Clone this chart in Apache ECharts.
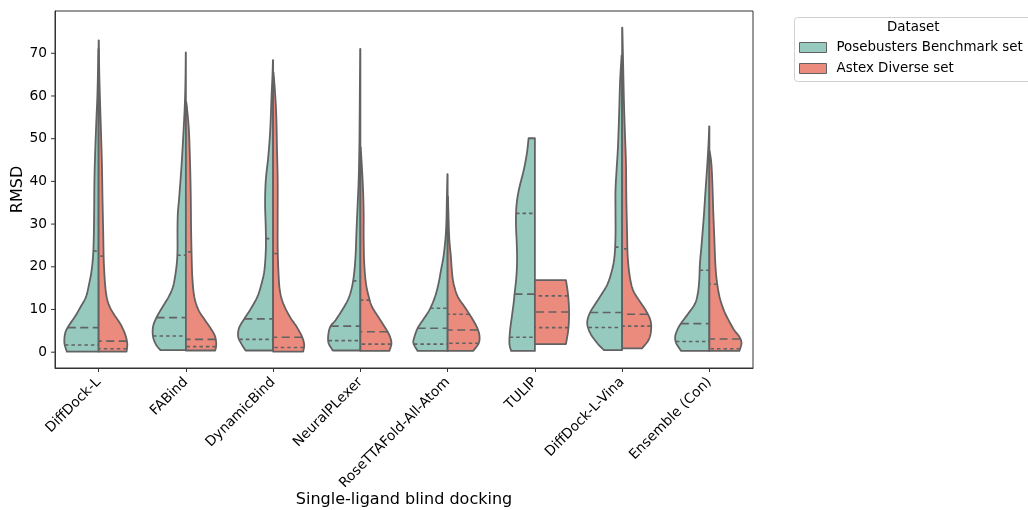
<!DOCTYPE html>
<html>
<head>
<meta charset="utf-8">
<script src="https://cdn.jsdelivr.net/npm/echarts@6/dist/echarts.min.js"></script>
<style>html,body{margin:0;padding:0;background:#fff}#c{width:1028px;height:510px}</style>
</head>
<body>
<div id="c"></div>
<script>
// ---------------- data ----------------
const categories = ['DiffDock-L', 'FABind', 'DynamicBind', 'NeuralPLexer', 'RoseTTAFold-All-Atom', 'TULIP', 'DiffDock-L-Vina', 'Ensemble (Con)'];
const seriesNames = ['Posebusters Benchmark set', 'Astex Diverse set'];
const yTickValues = [0, 10, 20, 30, 40, 50, 60, 70];

// density profiles: [RMSD value, relative density (1 = widest)]
const pbDensity = [
  [[0.14,0.91],[2.1,0.98],[4.4,0.96],[6.0,0.87],[8.3,0.68],[10.7,0.51],[13,0.36],[16.1,0.27],[19.2,0.20],[23.9,0.15],[31.7,0.13],[40.3,0.12],[48,0.094],[55.8,0.057],[59.7,0.037],[65.2,0.02],[71,0.006]],
  [[0.5,0.73],[1.7,0.85],[3.6,0.94],[6,0.94],[8.3,0.83],[10.7,0.66],[13,0.49],[15.3,0.37],[17.7,0.31],[20.8,0.26],[23.9,0.24],[28.6,0.24],[32.5,0.23],[36.4,0.19],[44.2,0.12],[52,0.066],[58.2,0.029],[64,0.011],[70.2,0.003]],
  [[0.4,0.79],[2.1,0.92],[3.6,1.0],[5.6,0.98],[7.5,0.85],[9.9,0.66],[13,0.45],[16.1,0.33],[19.2,0.25],[23.9,0.21],[28.6,0.21],[34.8,0.23],[40.3,0.21],[45.7,0.14],[52,0.083],[59.7,0.046],[65.2,0.017],[68.4,0.006]],
  [[0.4,0.79],[2.1,0.91],[4.0,0.92],[6,0.86],[7.5,0.71],[9.9,0.52],[12.2,0.36],[14.6,0.26],[17.7,0.19],[22.3,0.14],[28.6,0.11],[34.8,0.077],[40.3,0.049],[48,0.029],[55.8,0.02],[71,0.006]],
  [[0.3,0.86],[2.1,0.98],[3.6,0.95],[5.6,0.86],[7.5,0.71],[9.9,0.52],[13,0.36],[16.1,0.26],[19.2,0.19],[22.3,0.12],[26.2,0.066],[30.1,0.037],[36.4,0.02],[41.7,0.006]],
  [[0.3,0.68],[2.1,0.73],[5.2,0.71],[8.3,0.66],[11.4,0.61],[13.8,0.58],[17.7,0.53],[21.6,0.51],[25.5,0.52],[29.3,0.54],[32.5,0.54],[35.6,0.51],[38.7,0.44],[42.6,0.32],[46.5,0.23],[50.1,0.18]],
  [[0.5,0.52],[2.1,0.71],[4.4,0.91],[6.8,1.0],[9.1,0.93],[11.4,0.76],[13.8,0.57],[16.1,0.41],[19.2,0.29],[22.3,0.22],[27,0.19],[32.5,0.19],[37.9,0.19],[42.6,0.16],[48,0.12],[55.8,0.086],[63.6,0.057],[69.5,0.014]],
  [[0.3,0.81],[2.1,0.95],[3.6,0.98],[5.2,0.92],[6.8,0.81],[9.1,0.60],[11.4,0.41],[13.8,0.33],[16.9,0.29],[20.8,0.27],[25.5,0.22],[31.7,0.16],[37.9,0.11],[44.2,0.057],[49.6,0.02],[52.9,0.006]]
];
const astexDensity = [
  [[0.14,0.80],[2.1,0.82],[4.4,0.75],[6.8,0.61],[9.1,0.42],[11.4,0.28],[14.6,0.20],[20.8,0.15],[28.6,0.13],[36.4,0.11],[44.2,0.094],[52,0.066],[59.7,0.037],[66,0.017],[73,0.006]],
  [[0.4,0.84],[1.7,0.87],[3.6,0.84],[5.2,0.74],[7.5,0.55],[9.9,0.36],[13,0.24],[16.9,0.19],[20.8,0.17],[28.6,0.15],[36.4,0.14],[44.2,0.12],[52,0.086],[57.4,0.029],[58.6,0.009]],
  [[0.14,0.86],[1.7,0.89],[3.6,0.83],[6,0.67],[8.3,0.48],[11.4,0.29],[14.6,0.19],[19.2,0.15],[24.7,0.13],[32.5,0.13],[40.3,0.13],[48,0.11],[55.8,0.089],[61.3,0.051],[65.6,0.009]],
  [[0.3,0.83],[2.1,0.89],[4.0,0.83],[6,0.69],[8.3,0.51],[10.7,0.33],[13,0.24],[16.1,0.16],[20.8,0.11],[27,0.094],[32.5,0.094],[37.9,0.077],[42.6,0.049],[48,0.009]],
  [[0.3,0.73],[2.1,0.89],[4.0,0.91],[6,0.83],[8.3,0.67],[10.7,0.48],[13,0.29],[16.1,0.17],[19.2,0.12],[22.3,0.094],[25.5,0.057],[28.6,0.037],[36.5,0.009]],
  [[1.9,0.89],[5.5,0.96],[9.5,0.98],[13.5,0.95],[16.9,0.89]],
  [[0.9,0.57],[2.9,0.76],[5.2,0.83],[7.5,0.81],[9.9,0.67],[12.2,0.48],[14.6,0.31],[17.7,0.22],[22.3,0.16],[28.6,0.14],[36.4,0.12],[44.2,0.11],[52,0.077],[59.7,0.049],[67.5,0.029],[76,0.006]],
  [[0.3,0.86],[2.1,0.92],[3.6,0.86],[5.2,0.71],[7.5,0.55],[9.9,0.41],[13,0.29],[16.9,0.21],[20.8,0.17],[27,0.14],[33.2,0.11],[39.5,0.086],[44.2,0.057],[47,0.009]]
];

// quartiles [Q1, median, Q3]
const pbQuartiles = [[1.7,5.75,23.7],[3.8,8.1,22.7],[3.0,7.8,26.6],[2.7,6.1,16.7],[1.9,5.6,10.3],[3.5,13.6,32.5],[5.8,9.3,24.6],[2.5,6.7,19.2]];
const astexQuartiles = [[0.8,2.6,22.5],[1.3,3.0,23.5],[1.1,3.5,23.1],[1.9,4.8,12.2],[2.1,5.2,8.9],[5.75,9.4,13.2],[6.1,8.9,24.2],[0.8,3.1,15.9]];

// ---------------- drawing ----------------
const FONT = 'DejaVu Sans';
const LINE = '#626262';
const colors = ['#96cabf', '#eb8b7e'];

function densityAt(profile, v) {
  if (v <= profile[0][0]) return profile[0][1];
  for (let i = 1; i < profile.length; i++) {
    if (v <= profile[i][0]) {
      const a = profile[i - 1], b = profile[i];
      const t = (v - a[0]) / (b[0] - a[0]);
      return a[1] + t * (b[1] - a[1]);
    }
  }
  return profile[profile.length - 1][1];
}

function catmull(pts, n) {
  const out = [];
  for (let i = 0; i < pts.length - 1; i++) {
    const p0 = pts[Math.max(i - 1, 0)], p1 = pts[i], p2 = pts[i + 1], p3 = pts[Math.min(i + 2, pts.length - 1)];
    for (let k = 0; k < n; k++) {
      const t = k / n, t2 = t * t, t3 = t2 * t;
      const f = (a, b, c, d) => 0.5 * ((2 * b) + (-a + c) * t + (2 * a - 5 * b + 4 * c - d) * t2 + (-a + 3 * b - 3 * c + d) * t3);
      out.push([f(p0[0], p1[0], p2[0], p3[0]), f(p0[1], p1[1], p2[1], p3[1])]);
    }
  }
  out.push(pts[pts.length - 1]);
  return out;
}

function makeViolin(profiles, quartiles, side) {
  return function (params, api) {
    const idx = api.value(0);
    const prof = profiles[idx];
    const cx = api.coord([idx, 0])[0];
    const half = api.size([1, 0])[0] * 0.4;
    const sm = catmull(prof, 8).map(p => [p[0], Math.max(0, p[1])]);
    const pts = [];
    pts.push([cx, api.coord([idx, prof[0][0]])[1]]);
    sm.forEach(p => pts.push([cx + side * p[1] * half, api.coord([idx, p[0]])[1]]));
    pts.push([cx, api.coord([idx, prof[prof.length - 1][0]])[1]]);
    const children = [{
      type: 'polygon',
      shape: { points: pts },
      style: { fill: colors[side < 0 ? 0 : 1], stroke: LINE, lineWidth: 1.8, lineJoin: 'round' }
    }];
    quartiles[idx].forEach((q, qi) => {
      const w = densityAt(prof, q) * half;
      const y = api.coord([idx, q])[1];
      children.push({
        type: 'line',
        shape: { x1: cx + side * w, y1: y, x2: cx, y2: y },
        style: { stroke: LINE, lineWidth: 1.6, lineDash: qi === 1 ? [8, 4.5] : [3.5, 3] }
      });
    });
    return { type: 'group', children };
  };
}

const chart = echarts.init(document.getElementById('c'), null, { renderer: 'canvas' });
chart.setOption({
  animation: false,
  backgroundColor: '#fff',
  textStyle: { fontFamily: FONT },
  grid: { left: 55, right: 275, top: 11, bottom: 142, show: true, borderColor: '#333', borderWidth: 1, backgroundColor: '#fff', containLabel: false, outerBoundsMode: 'none' },
  xAxis: {
    type: 'category',
    data: categories,
    boundaryGap: true,
    axisLine: { show: true, onZero: false, lineStyle: { color: '#333', width: 1 } },
    axisTick: { show: true, alignWithLabel: true, length: 4, lineStyle: { color: '#333' } },
    axisLabel: { rotate: 45, fontSize: 13.8, color: '#000', fontFamily: FONT, margin: 12, interval: 0 },
    name: 'Single-ligand blind docking',
    nameLocation: 'middle',
    nameMoveOverlap: false,
    nameGap: 124,
    nameTextStyle: { fontSize: 16, color: '#000', fontFamily: FONT }
  },
  yAxis: {
    type: 'value',
    min: -3.7,
    max: 79.9,
    axisLine: { show: true, onZero: false, lineStyle: { color: '#333', width: 1 } },
    axisTick: { show: false },
    axisLabel: { show: false },
    splitLine: { show: false },
    name: 'RMSD',
    nameLocation: 'middle',
    nameMoveOverlap: false,
    nameGap: 29,
    nameTextStyle: { fontSize: 16, color: '#000', fontFamily: FONT }
  },
  legend: {
    orient: 'vertical',
    left: 799,
    top: 41,
    padding: 0,
    itemWidth: 27,
    itemHeight: 10,
    itemGap: 8,
    textStyle: { fontSize: 13.4, color: '#000', fontFamily: FONT, padding: [0, 0, 0, 5] },
    data: seriesNames.map((n, i) => ({ name: n, icon: 'rect', itemStyle: { color: colors[i], borderColor: LINE, borderWidth: 1 } }))
  },
  graphic: [
    { type: 'rect', left: 794, top: 17, shape: { width: 250, height: 64, r: 3 }, style: { fill: '#fff', stroke: '#d0d0d0', lineWidth: 1 }, z: -1 },
    { type: 'text', left: 887, top: 21, style: { text: 'Dataset', fontSize: 13.4, fontFamily: FONT, fill: '#000' } }
  ],
  series: [
    { name: seriesNames[0], type: 'custom', itemStyle: { color: colors[0] }, data: categories.map((c, i) => [i]), renderItem: makeViolin(pbDensity, pbQuartiles, -1), z: 2 },
    { name: seriesNames[1], type: 'custom', itemStyle: { color: colors[1] }, data: categories.map((c, i) => [i]), renderItem: makeViolin(astexDensity, astexQuartiles, 1), z: 2 },
    {
      name: 'yticks', type: 'custom', silent: true,
      data: yTickValues.map(v => [0, v]),
      renderItem: function (params, api) {
        const x0 = params.coordSys.x;
        const y = api.coord([0, api.value(1)])[1];
        return {
          type: 'group', children: [
            { type: 'line', shape: { x1: x0 - 4, y1: y, x2: x0, y2: y }, style: { stroke: '#333', lineWidth: 1 } },
            { type: 'text', x: x0 - 8, y: y, style: { text: String(api.value(1)), fontSize: 13.8, fontFamily: FONT, fill: '#000', align: 'right', verticalAlign: 'middle' } }
          ]
        };
      }
    }
  ]
});
</script>
</body>
</html>
